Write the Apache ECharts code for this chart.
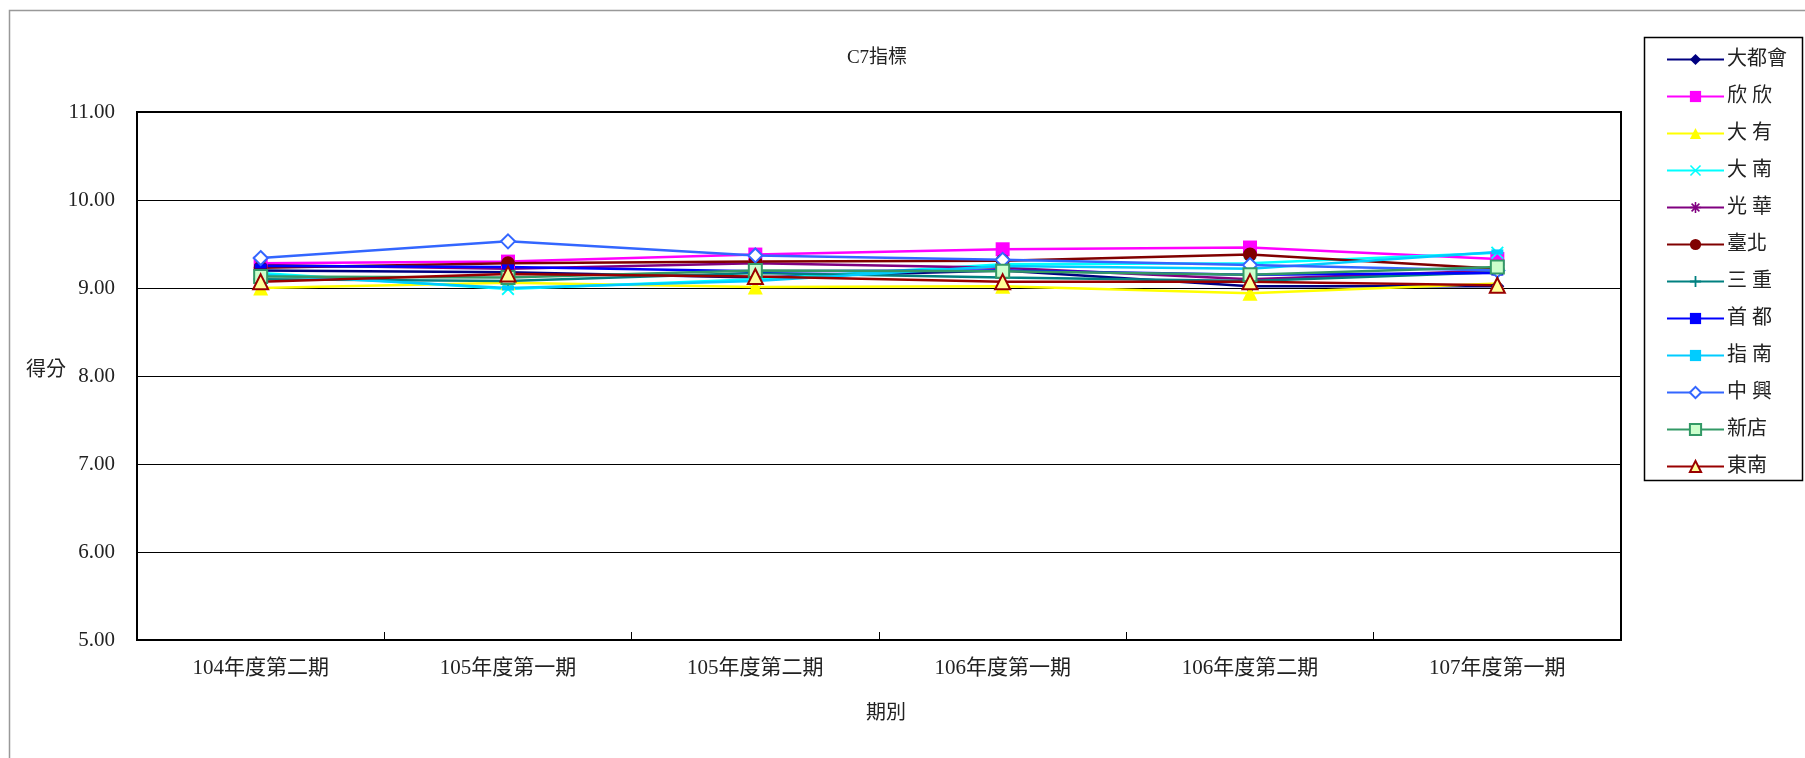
<!DOCTYPE html>
<html><head><meta charset="utf-8">
<script src="https://cdn.jsdelivr.net/npm/echarts@6/dist/echarts.min.js"></script>
<style>html,body{margin:0;padding:0;background:#fff}#c{width:1805px;height:758px}</style>
</head><body><div id="c"></div>
<script>
const categories = ['104年度第二期','105年度第一期','105年度第二期','106年度第一期','106年度第二期','107年度第一期'];
const yTicks = [5, 6, 7, 8, 9, 10, 11];
const names = ['大都會','欣 欣','大 有','大 南','光 華','臺北','三 重','首 都','指 南','中 興','新店','東南'];
const v_daduhui = [9.20, 9.18, 9.12, 9.20, 9.02, 9.02];
const v_xinxin  = [9.28, 9.30, 9.38, 9.44, 9.46, 9.33];
const v_dayou   = [9.00, 9.06, 9.01, 9.02, 8.94, 9.05];
const v_danan   = [9.17, 8.99, 9.10, 9.27, 9.28, 9.40];
const v_guanghua= [9.26, 9.22, 9.28, 9.23, 9.10, 9.20];
const v_taipei  = [9.23, 9.28, 9.30, 9.31, 9.38, 9.22];
const v_sanchong= [9.10, 9.08, 9.17, 9.12, 9.08, 9.18];
const v_shoudu  = [9.25, 9.24, 9.19, 9.20, 9.15, 9.17];
const v_zhinan  = [9.15, 9.00, 9.08, 9.25, 9.22, 9.41];
const v_zhongxing=[9.34, 9.53, 9.37, 9.32, 9.26, 9.20];
const v_xindian = [9.13, 9.12, 9.20, 9.19, 9.15, 9.24];
const v_dongnan = [9.07, 9.16, 9.13, 9.07, 9.07, 9.03];
const values = [v_daduhui,v_xinxin,v_dayou,v_danan,v_guanghua,v_taipei,v_sanchong,v_shoudu,v_zhinan,v_zhongxing,v_xindian,v_dongnan];

const X = 'path://M1,0L5,4L9,0L10,1L6,5L10,9L9,10L5,6L1,10L0,9L4,5L0,1Z';
const PLUS = 'path://M4.2,0H5.8V4.2H10V5.8H5.8V10H4.2V5.8H0V4.2H4.2Z';
const STAR = 'path://M4.3,0H5.7V3.3L8,1L9,2L6.7,4.3H10V5.7H6.7L9,8L8,9L5.7,6.7V10H4.3V6.7L2,9L1,8L3.3,5.7H0V4.3H3.3L1,2L2,1L4.3,3.3Z';
const DASH = 'path://M0,0H10V4H0Z';
const styles = [
  {c:'#000080', s:'diamond', z:14, fill:'#000080'},
  {c:'#FF00FF', s:'rect', z:14, fill:'#FF00FF'},
  {c:'#FFFF00', s:'triangle', z:15, fill:'#FFFF00'},
  {c:'#00FFFF', s:X, z:13, fill:'#00FFFF'},
  {c:'#800080', s:STAR, z:13, fill:'#800080'},
  {c:'#800000', s:'circle', z:14, fill:'#800000'},
  {c:'#008080', s:PLUS, z:14, fill:'#008080'},
  {c:'#0000FF', s:DASH, z:[12,5], fill:'#0000FF'},
  {c:'#00CCFF', s:DASH, z:[12,5], fill:'#00CCFF'},
  {c:'#3366FF', s:'diamond', z:14, fill:'#FFFFFF', b:'#3366FF'},
  {c:'#339966', s:'rect', z:13, fill:'#CCFFCC', b:'#339966'},
  {c:'#990000', s:'triangle', z:15, fill:'#FFFF99', b:'#990000'}
];
const FONT = '"Liberation Serif","Noto Sans CJK TC",serif';
const series = names.map((n,i)=>({
  name:n, type:'line', data:values[i], symbol:styles[i].s, symbolSize:styles[i].z,
  showAllSymbol:true, animation:false,
  lineStyle:{color:styles[i].c, width:2.5},
  itemStyle:{color:styles[i].fill, borderColor:styles[i].b||styles[i].fill, borderWidth:styles[i].b?2:0},
  emphasis:{disabled:true}
}));

const chart = echarts.init(document.getElementById('c'));
chart.setOption({
  backgroundColor:'#fff',
  animation:false,
  grid:{left:137, right:184, top:112, bottom:118, show:true, borderColor:'#000', borderWidth:2},
  xAxis:{type:'category', data:categories, boundaryGap:true,
    axisLine:{lineStyle:{color:'#000', width:2}},
    axisTick:{show:true, inside:true, length:8, lineStyle:{color:'#000'}},
    axisLabel:{color:'#222', fontFamily:FONT, fontSize:21, margin:18}},
  yAxis:{type:'value', min:yTicks[0], max:yTicks[yTicks.length-1], interval:1,
    axisLine:{show:true, lineStyle:{color:'#000', width:2}},
    axisTick:{show:false},
    splitLine:{lineStyle:{color:'#000', width:1}},
    axisLabel:{color:'#222', fontFamily:FONT, fontSize:21, margin:22, formatter:v=>v.toFixed(2)}},
  legend:{orient:'vertical', left:1661, top:44, itemWidth:57, itemHeight:14, itemGap:16,
    textStyle:{color:'#222', fontFamily:FONT, fontSize:20, lineHeight:21, padding:[0,0,0,-2]},
    data:names, selectedMode:false},
  graphic:[
    {type:'rect', shape:{x:9.5, y:10.5, width:1900, height:800}, style:{fill:null, stroke:'#999', lineWidth:1.5}, silent:true},
    {type:'rect', shape:{x:1644.5, y:37.5, width:158, height:443}, style:{fill:null, stroke:'#000', lineWidth:1.5}, silent:true},
    {type:'text', style:{text:'C7指標', x:877, y:58, align:'center', verticalAlign:'middle', font:'19px '+FONT, fill:'#222'}, silent:true},
    {type:'text', style:{text:'得分', x:46, y:371, align:'center', verticalAlign:'middle', font:'20px '+FONT, fill:'#222'}, silent:true},
    {type:'text', style:{text:'期別', x:886, y:714, align:'center', verticalAlign:'middle', font:'20px '+FONT, fill:'#222'}, silent:true}
  ],
  series:series
});
</script></body></html>
